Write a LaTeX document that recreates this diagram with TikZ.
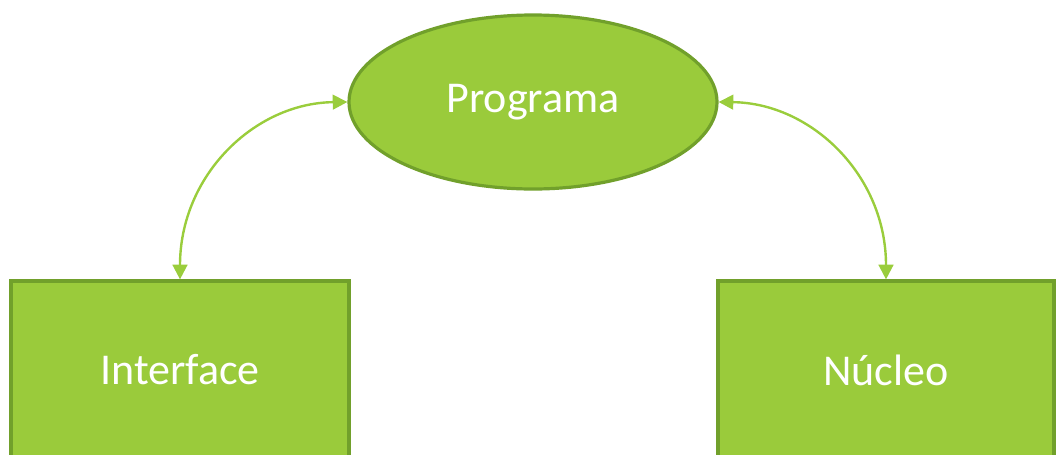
\documentclass[tikz,border=0pt]{standalone}
\usepackage{fontspec}
\setmainfont{Carlito}
\usetikzlibrary{arrows.meta,shapes.geometric}
\definecolor{gfill}{HTML}{9ACB3B}
\definecolor{gline}{HTML}{71A02B}
\definecolor{garrow}{HTML}{9ACD3C}
\tikzset{
  lbl/.style={font=\fontsize{33}{40}\selectfont, text=white},
  boxnode/.style={draw=gline, fill=gfill, line width=2.4pt, rectangle, inner sep=0pt, lbl},
  ellnode/.style={draw=gline, fill=gfill, line width=2.4pt, ellipse, inner sep=0pt, lbl},
  link/.style={draw=garrow, line width=1.8pt, {Triangle[length=11pt,width=11pt]}-{Triangle[length=11pt,width=11pt]}}
}
\begin{document}
\begin{tikzpicture}[x=0.75pt,y=-0.75pt]
\useasboundingbox (0,0) rectangle (1056,454);
\clip (0,0) rectangle (1056,454);
\node[ellnode, minimum width=368*0.75pt, minimum height=174*0.75pt] (prog) at (533,102) {Programa};
\node[boxnode, minimum width=338*0.75pt, minimum height=178*0.75pt] (iface) at (180,370) {Interface};
\node[boxnode, minimum width=336*0.75pt, minimum height=178*0.75pt] (nuc) at (886,370) {Núcleo};
\draw[link] (iface.north) .. controls (180,175) and (255,103) .. (prog.west);
\draw[link] (nuc.north) .. controls (886,175) and (811,103) .. (prog.east);
\end{tikzpicture}
\end{document}
